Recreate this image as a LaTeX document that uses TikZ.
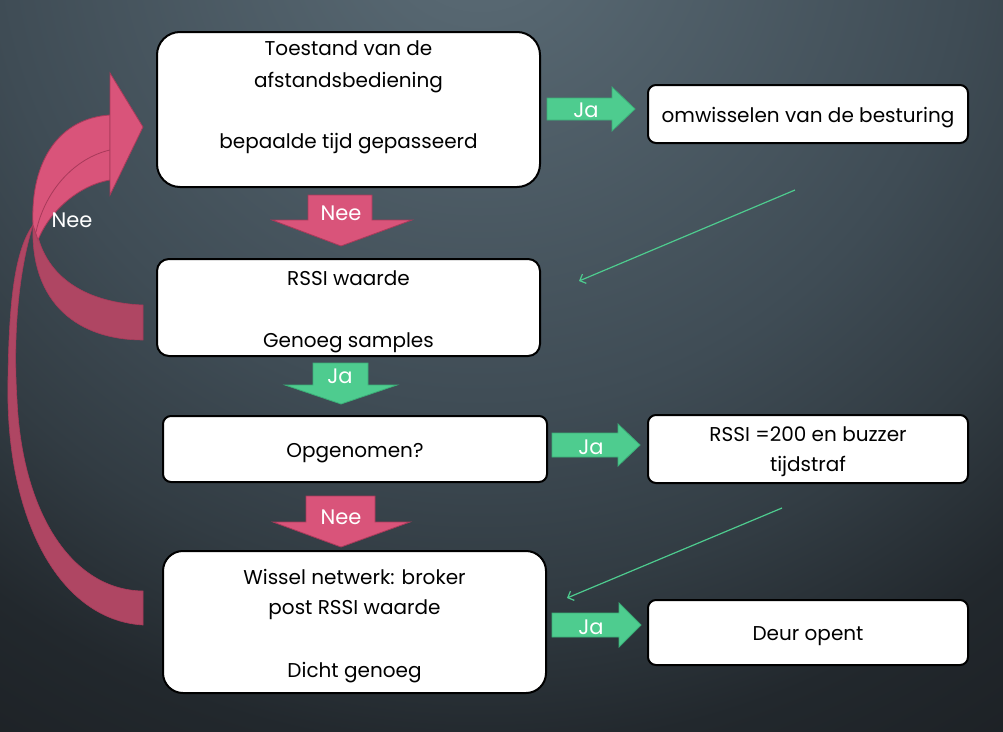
\documentclass[tikz,border=0pt]{standalone}
\usepackage{fontspec}
\setmainfont{Poppins}
\usetikzlibrary{arrows.meta}
\definecolor{pinkA}{HTML}{D9547A}
\definecolor{pinkB}{HTML}{AF4663}
\definecolor{pinkE}{HTML}{A83A5A}
\definecolor{greenA}{HTML}{4ECC8F}
\definecolor{greenE}{HTML}{3BAF78}
\definecolor{bga}{HTML}{5C6C76}
\definecolor{bgb}{HTML}{566670}
\definecolor{bgc}{HTML}{3F4C55}
\definecolor{bgd}{HTML}{323C43}
\definecolor{bge}{HTML}{22282D}
\definecolor{bgf}{HTML}{1C2024}
\pgfdeclareradialshading{bgshade}{\pgfpoint{0bp}{0bp}}{color(0bp)=(bga); color(2.5bp)=(bgb); color(12.25bp)=(bgc); color(16.7bp)=(bgd); color(20.75bp)=(bge); color(25bp)=(bgf); color(50bp)=(bgf)}
\tikzset{
  box/.style={draw=black, line width=2pt, fill=white, inner sep=0pt},
  txt/.style={font=\fontsize{20}{32}\selectfont, align=center, text=black, inner sep=0pt},
  lbl/.style={font=\fontsize{21}{24}\selectfont, text=white, inner sep=0pt},
  garrow/.style={fill=greenA, draw=greenE, line width=0.8pt},
  parrow/.style={fill=pinkA, draw=pinkE, line width=0.8pt},
  pback/.style={fill=pinkB, draw=pinkE, line width=0.6pt},
  thinarrow/.style={draw=greenA, line width=1.2pt, -{Straight Barb[length=5pt,width=10pt]}}
}
\begin{document}
\begin{tikzpicture}[x=1pt, y=-1pt]
\useasboundingbox (0,0) rectangle (1003,731);
\begin{scope}
\clip (0,0) rectangle (1003,731);
\shade[shading=bgshade] (-520,-1080) rectangle (1480,920);
\end{scope}

% curved "Nee" arrows
\path[pback] (143,625) .. controls (60,620) and (5,520) .. (8,380)
  .. controls (9,300) and (15,250) .. (33,225)
  .. controls (22,260) and (12,320) .. (17,400)
  .. controls (22,510) and (70,590) .. (143,591) -- cycle;
\path[pback] (143,340) .. controls (80,340) and (30,305) .. (33,225)
  -- (36,228) .. controls (45,280) and (90,303) .. (143,305) -- cycle;
\path[parrow] (33,225) .. controls (30,160) and (60,118) .. (110,115)
  -- (110,180) .. controls (80,185) and (50,210) .. (38,240) -- cycle;
\draw[pinkE, line width=0.8pt] (110,150) .. controls (75,158) and (45,190) .. (36,232);
\path[parrow] (110,73) -- (143,127) -- (110,195) -- cycle;
\node[lbl] (neeL) at (72,220) {Nee};

% boxes
\node[box, rounded corners=23pt, minimum width=383pt, minimum height=155pt] (A) at (348.5,109.5) {};
\node[txt] (At) at (348.5,97) {Toestand van de\\afstandsbediening\\[29pt]bepaalde tijd gepasseerd};
\node[box, rounded corners=8pt, minimum width=320pt, minimum height=58pt] (B) at (808,114) {};
\node[txt] (Bt) at (808,118) {omwisselen van de besturing};
\node[box, rounded corners=12pt, minimum width=383pt, minimum height=97pt] (C) at (348.5,307.5) {};
\node[txt] (Ct) at (348.5,312) {RSSI waarde\\[30pt]Genoeg samples};
\node[box, rounded corners=8pt, minimum width=384pt, minimum height=66pt] (D) at (355,449) {};
\node[txt] (Dt) at (355,453) {Opgenomen?};
\node[box, rounded corners=8pt, minimum width=320pt, minimum height=68pt] (E) at (808,449) {};
\node[txt, font=\fontsize{20}{30}\selectfont] (Et) at (808,452) {RSSI =200 en buzzer\\tijdstraf};
\node[box, rounded corners=20pt, minimum width=383pt, minimum height=142pt] (F) at (354.5,622) {};
\node[txt, font=\fontsize{20}{30}\selectfont] (Ft) at (354.5,626) {Wissel netwerk: broker\\post RSSI waarde\\[33pt]Dicht genoeg};
\node[box, rounded corners=8pt, minimum width=320pt, minimum height=65pt] (G) at (808,632.5) {};
\node[txt] (Gt) at (808,636) {Deur opent};

% block arrows
\path[parrow] (308,195) -- (372,195) -- (372,220) -- (412,220) -- (341,246) -- (272,220) -- (308,220) -- cycle;
\node[lbl] (nee1) at (341,213) {Nee};
\path[garrow] (313,363) -- (368,363) -- (368,385) -- (397,385) -- (341,404) -- (285,385) -- (313,385) -- cycle;
\node[lbl] (ja2) at (340,376) {Ja};
\path[parrow] (306,496) -- (375,496) -- (375,522) -- (410,522) -- (341,547) -- (273,522) -- (306,522) -- cycle;
\node[lbl] (nee2) at (341,517) {Nee};
\path[garrow] (547,98) -- (612,98) -- (612,87) -- (635,109) -- (612,131) -- (612,120) -- (547,120) -- cycle;
\node[lbl] (ja1) at (586,110) {Ja};
\path[garrow] (552,433) -- (618,433) -- (618,424) -- (640,445) -- (618,466) -- (618,457) -- (552,457) -- cycle;
\node[lbl] (ja3) at (591,447) {Ja};
\path[garrow] (552,613) -- (619,613) -- (619,603) -- (641,625) -- (619,647) -- (619,637) -- (552,637) -- cycle;
\node[lbl] (ja4) at (591,627) {Ja};

% thin green arrows
\coordinate (t1s) at (795,190);
\coordinate (t1e) at (579,281);
\coordinate (t2s) at (782,508);
\coordinate (t2e) at (567,598);
\draw[thinarrow] (t1s) -- (t1e);
\draw[thinarrow] (t2s) -- (t2e);
\end{tikzpicture}
\end{document}
